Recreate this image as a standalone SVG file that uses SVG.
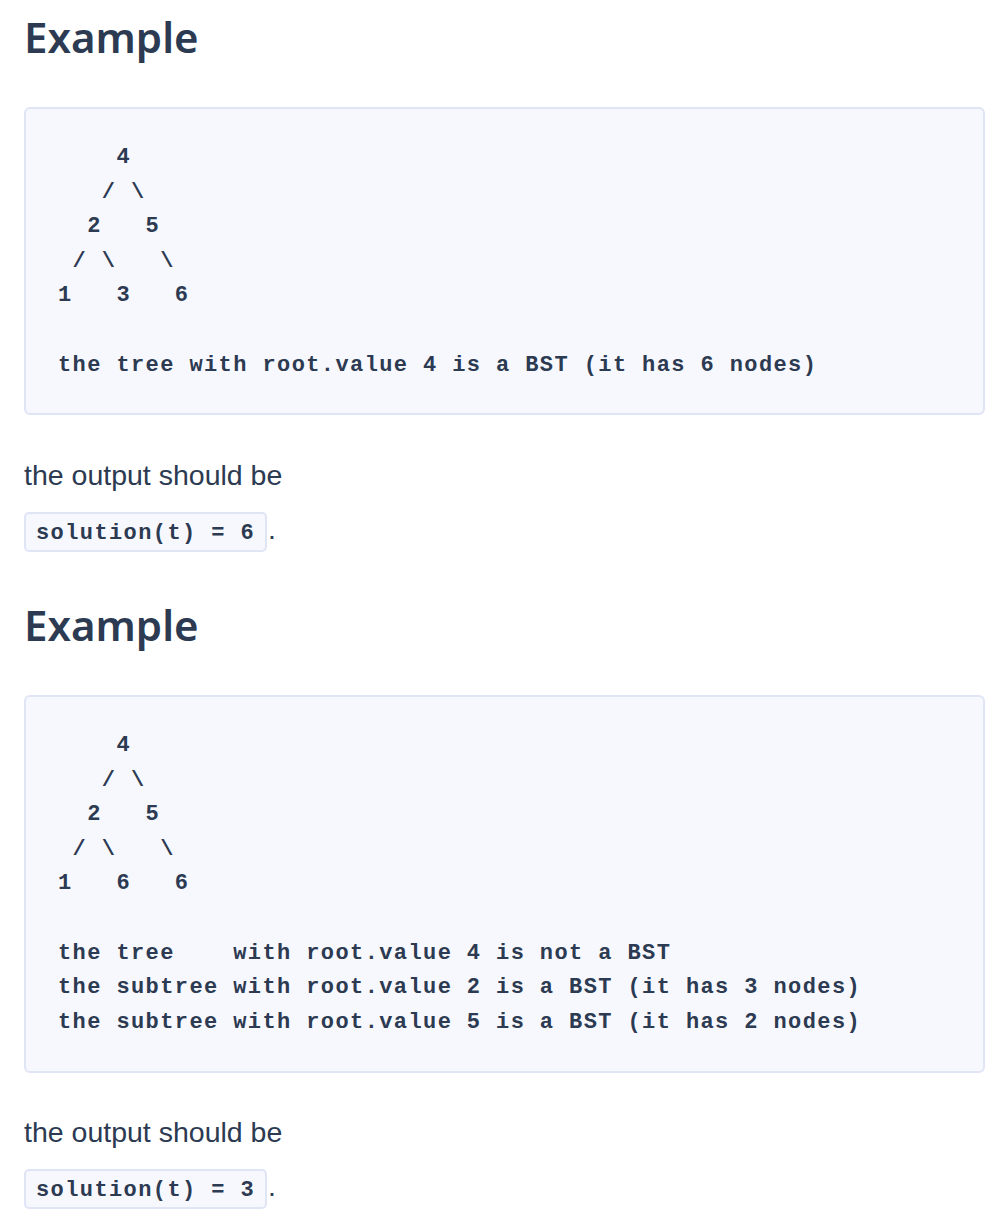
<svg xmlns="http://www.w3.org/2000/svg" width="986" height="1220" viewBox="0 0 986 1220">
<style>
.h{font-family:"Noto Sans","Open Sans",sans-serif;font-weight:600;font-size:42px;fill:#2c3a52}
.p{font-family:"Liberation Sans",Arial,sans-serif;font-size:28.5px;fill:#2c3a52}
.m{font-family:"Liberation Mono","Courier New",monospace;font-weight:bold;font-size:22px;letter-spacing:1.4px;fill:#2c3a52}
.box{fill:#f7f8fd;stroke:#e0e5f6;stroke-width:2}
</style>
<rect width="986" height="1220" fill="#ffffff"/>
<g id="example1">
<text class="h" x="24" y="53">Example</text>
<rect class="box" x="25" y="108" width="959" height="306" rx="5"/>
<text class="m" x="58" y="163" xml:space="preserve">    4</text>
<text class="m" x="58" y="197.6" xml:space="preserve">   / \</text>
<text class="m" x="58" y="232.2" xml:space="preserve">  2   5</text>
<text class="m" x="58" y="266.8" xml:space="preserve"> / \   \</text>
<text class="m" x="58" y="301.4" xml:space="preserve">1   3   6</text>
<text class="m" x="58" y="370.6" xml:space="preserve">the tree with root.value 4 is a BST (it has 6 nodes)</text>
<text class="p" x="24" y="485">the output should be</text>
<rect class="box" x="25" y="513" width="241" height="38" rx="4"/>
<text class="m" x="36" y="539" xml:space="preserve">solution(t) = 6</text>
<text class="p" x="268" y="539">.</text>
</g>
<g id="example2">
<text class="h" x="24" y="641">Example</text>
<rect class="box" x="25" y="696" width="959" height="376" rx="5"/>
<text class="m" x="58" y="751" xml:space="preserve">    4</text>
<text class="m" x="58" y="785.6" xml:space="preserve">   / \</text>
<text class="m" x="58" y="820.2" xml:space="preserve">  2   5</text>
<text class="m" x="58" y="854.8" xml:space="preserve"> / \   \</text>
<text class="m" x="58" y="889.4" xml:space="preserve">1   6   6</text>
<text class="m" x="58" y="958.6" xml:space="preserve">the tree    with root.value 4 is not a BST</text>
<text class="m" x="58" y="993.2" xml:space="preserve">the subtree with root.value 2 is a BST (it has 3 nodes)</text>
<text class="m" x="58" y="1027.8" xml:space="preserve">the subtree with root.value 5 is a BST (it has 2 nodes)</text>
<text class="p" x="24" y="1142">the output should be</text>
<rect class="box" x="25" y="1170" width="241" height="38" rx="4"/>
<text class="m" x="36" y="1196" xml:space="preserve">solution(t) = 3</text>
<text class="p" x="268" y="1196">.</text>
</g>
</svg>
